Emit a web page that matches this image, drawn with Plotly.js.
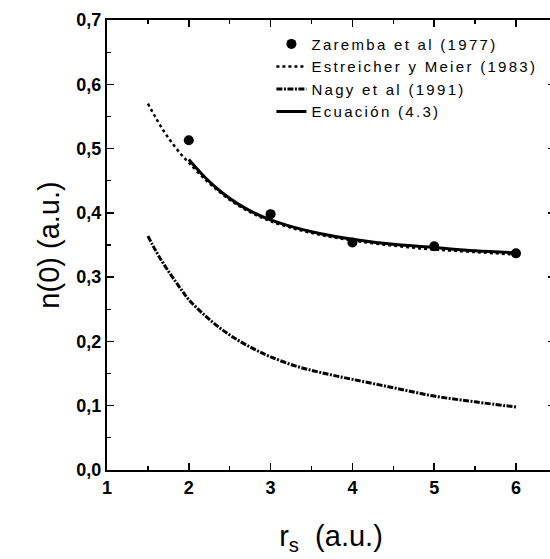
<!DOCTYPE html>
<html>
<head>
<meta charset="utf-8">
<script src="https://cdn.plot.ly/plotly-3.0.1.min.js"></script>
<style>
html,body{margin:0;padding:0;overflow:hidden;background:#fff;}
.legendtext{letter-spacing:2.3px;}
</style>
</head>
<body>
<div id="chart"></div>
<script>
// Zaremba et al (1977) – points
const zarX = [2, 3, 4, 5, 6];
const zarY = [0.513, 0.398, 0.354, 0.348, 0.337];

// Estreicher y Meier (1983) – dotted
const estX = [1.5, 1.6, 1.7, 1.8, 1.9, 2.0, 2.2, 2.4, 2.6, 2.8, 3.0, 3.3, 3.6, 4.0, 4.5, 5.0, 5.5, 6.0];
const estY = [0.570, 0.547, 0.526, 0.508, 0.492, 0.478, 0.452, 0.430, 0.412, 0.398, 0.387, 0.375, 0.366, 0.357, 0.349, 0.343, 0.339, 0.335];

// Nagy et al (1991) – dash-dot
const nagX = [1.5, 1.6, 1.7, 1.8, 1.9, 2.0, 2.2, 2.4, 2.6, 2.8, 3.0, 3.3, 3.6, 4.0, 4.5, 5.0, 5.5, 6.0];
const nagY = [0.364, 0.340, 0.319, 0.300, 0.282, 0.265, 0.240, 0.219, 0.202, 0.188, 0.176, 0.162, 0.152, 0.141, 0.128, 0.115, 0.106, 0.098];

// Ecuación (4.3) – solid
const eqX = [2.0, 2.2, 2.4, 2.6, 2.8, 3.0, 3.3, 3.6, 4.0, 4.5, 5.0, 5.5, 6.0];
const eqY = [0.483, 0.455, 0.432, 0.414, 0.400, 0.389, 0.377, 0.368, 0.359, 0.351, 0.346, 0.341, 0.338];

const names = ['Zaremba et al (1977)', 'Estreicher y Meier (1983)', 'Nagy et al (1991)', 'Ecuación (4.3)'];
const xTicks = [1, 2, 3, 4, 5, 6];
const yTicks = [0, 0.1, 0.2, 0.3, 0.4, 0.5, 0.6, 0.7];

const traces = [
  {x: zarX, y: zarY, name: names[0], mode: 'markers', type: 'scatter',
   marker: {color: '#000', size: 10}},
  {x: estX, y: estY, name: names[1], mode: 'lines', type: 'scatter', line: {shape: 'spline',
   color: '#000', width: 2.5, dash: 'dot'}},
  {x: nagX, y: nagY, name: names[2], mode: 'lines', type: 'scatter', line: {shape: 'spline',
   color: '#000', width: 3, dash: '6px,1.5px,2px,1.5px'}},
  {x: eqX, y: eqY, name: names[3], mode: 'lines', type: 'scatter', line: {shape: 'spline',
   color: '#000', width: 3}}
];

const FAM = 'Liberation Sans, Arial, sans-serif';
const tickFont = {family: FAM, size: 18, color: '#000', weight: 'bold'};
const axisCommon = {
  showline: true, linewidth: 2, linecolor: '#000', mirror: 'allticks',
  ticks: 'inside', ticklen: 7, tickwidth: 1.5, tickcolor: '#000',
  showgrid: false, zeroline: false, tickfont: tickFont
};

const layout = {
  width: 555, height: 559,
  margin: {l: 107, r: 0, t: 20, b: 89},
  paper_bgcolor: '#fff', plot_bgcolor: '#fff',
  separators: ',.',
  showlegend: true,
  legend: {x: 0.367, y: 0.983, xanchor: 'left', yanchor: 'top', bgcolor: 'rgba(0,0,0,0)',
           font: {family: FAM, size: 15, color: '#000'},
           tracegroupgap: 0},
  xaxis: Object.assign({}, axisCommon, {
    range: [1, 6.477], tickvals: xTicks, ticktext: xTicks.map(String),
    minor: {dtick: 0.5, tick0: 1, ticks: 'inside', ticklen: 4, tickwidth: 1.2, tickcolor: '#000'},
    title: {text: 'r<sub>s</sub>  (a.u.)', font: {family: FAM, size: 29, color: '#000'}, standoff: 29}
  }),
  yaxis: Object.assign({}, axisCommon, {
    range: [0, 0.7], tickvals: yTicks, tickformat: '.1f',
    minor: {dtick: 0.05, tick0: 0, ticks: 'inside', ticklen: 4, tickwidth: 1.2, tickcolor: '#000'},
    title: {text: 'n(0) (a.u.)', font: {family: FAM, size: 29, color: '#000'}, standoff: 8}
  })
};

Plotly.newPlot('chart', traces, layout, {displayModeBar: false, staticPlot: true});
</script>
</body>
</html>
